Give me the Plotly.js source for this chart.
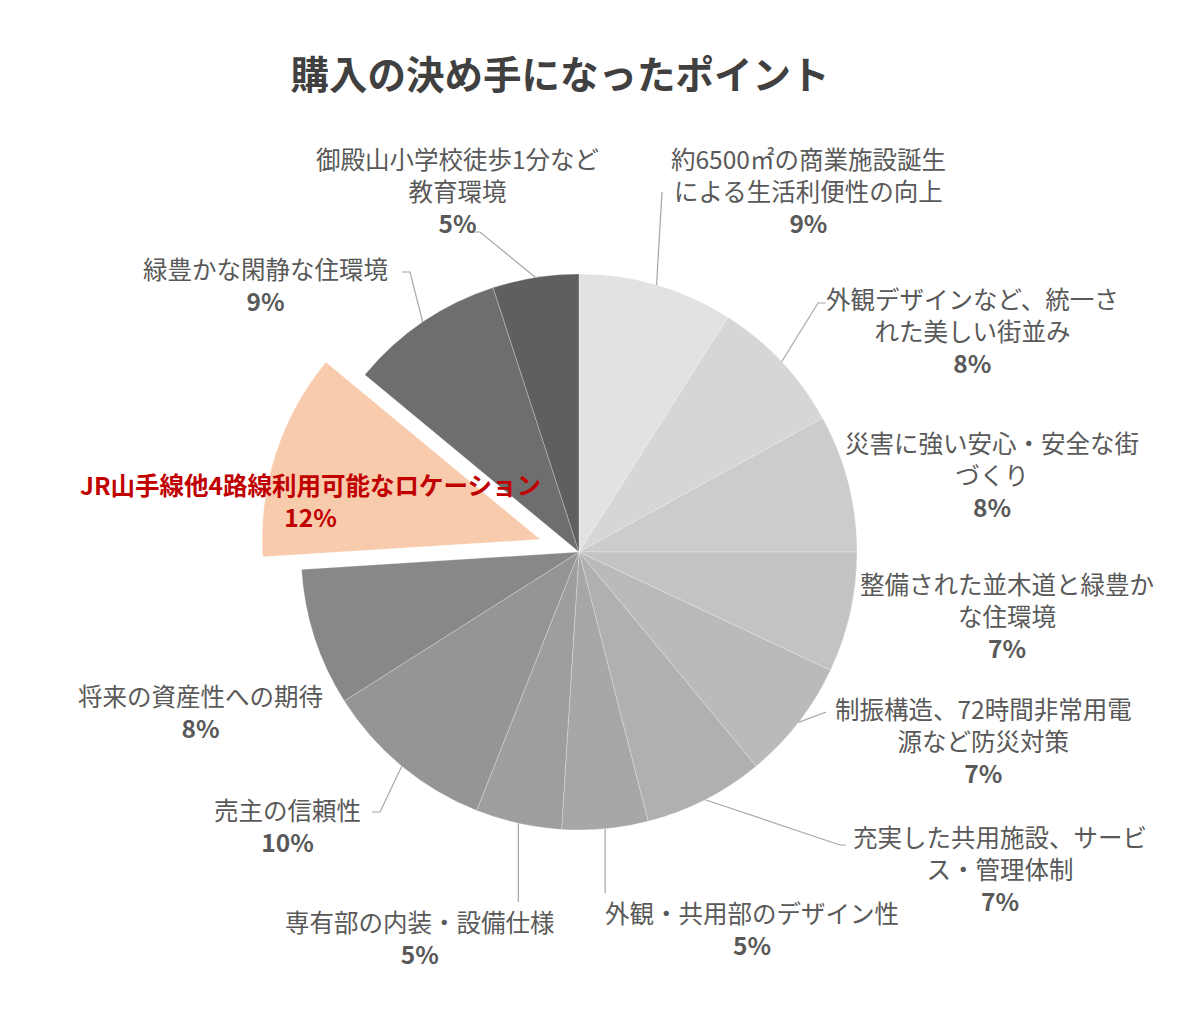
<!DOCTYPE html>
<html>
<head>
<meta charset="utf-8">
<script src="https://cdn.plot.ly/plotly-3.0.1.min.js"></script>
<style>
  body { margin: 0; background: #fff; }
  #pie { width: 1200px; height: 1024px; }
</style>
</head>
<body>
<div id="pie"></div>
<script>
// slices, clockwise from 12 o'clock
var labels = [
  '約6500㎡の商業施設誕生<br>による生活利便性の向上',
  '外観デザインなど、統一さ<br>れた美しい街並み',
  '災害に強い安心・安全な街<br>づくり',
  '整備された並木道と緑豊か<br>な住環境',
  '制振構造、72時間非常用電<br>源など防災対策',
  '充実した共用施設、サービ<br>ス・管理体制',
  '外観・共用部のデザイン性',
  '専有部の内装・設備仕様',
  '売主の信頼性',
  '将来の資産性への期待',
  'JR山手線他4路線利用可能なロケーション',
  '緑豊かな閑静な住環境',
  '御殿山小学校徒歩1分など<br>教育環境'
];
var values = [9, 8, 8, 7, 7, 7, 5, 5, 10, 8, 12, 9, 5];

var colors = ['#e2e2e2', '#d6d6d6', '#cccccc', '#c3c3c3', '#bababa', '#b0b0b0',
  '#a7a7a7', '#9e9e9e', '#959595', '#888888', '#f8cbad', '#6e6e6e', '#5f5f5f'];
var pulls = [0, 0, 0, 0, 0, 0, 0, 0, 0, 0, 0.147, 0, 0];
var highlight = 10;

// label block centres (px) and leader line bend points (px, null x = straight down)
var labelPos = [[808, 190], [972, 330], [992, 474], [1007, 615], [983, 740], [1000, 868],
  [752, 928], [420, 937], [287, 825], [200, 711], [310, 500], [265, 284], [457, 190]];
var leaders = [
  [[662, 192]],
  [[818, 303], [826, 303]],
  null,
  null,
  [[826, 712]],
  [[840, 845], [846, 845]],
  [[null, 893]],
  [[null, 902]],
  [[380, 812], [372, 812]],
  null,
  null,
  [[410, 272], [402, 272]],
  [[480, 232], [472, 232]]
];

var W = 1200, H = 1024;
var cx = 579, cy = 552, r = 278;

function buildChart() {
  var maxPull = Math.max.apply(null, pulls);
  var box = 2 * r * (1 + maxPull);

  var trace = {
    type: 'pie',
    labels: labels,
    values: values,
    sort: false,
    direction: 'clockwise',
    rotation: 0,
    pull: pulls,
    textinfo: 'none',
    hoverinfo: 'none',
    marker: { colors: colors, line: { color: 'rgba(255,255,255,0.25)', width: 1 } },
    domain: {
      x: [(cx - box / 2) / W, (cx + box / 2) / W],
      y: [1 - (cy + box / 2) / H, 1 - (cy - box / 2) / H]
    }
  };

  var total = values.reduce(function (a, b) { return a + b; }, 0);
  var annotations = [];
  var shapes = [];
  var cum = 0;

  for (var i = 0; i < values.length; i++) {
    var mid = (cum + values[i] / 2) / total * 2 * Math.PI;
    cum += values[i];
    var ex = cx + r * Math.sin(mid);
    var ey = cy - r * Math.cos(mid);

    var red = i === highlight;
    annotations.push({
      xref: 'paper', yref: 'paper',
      x: labelPos[i][0] / W, y: 1 - labelPos[i][1] / H,
      xanchor: 'center', yanchor: 'middle',
      showarrow: false, align: 'center',
      text: (red ? '<b>' + labels[i] + '</b>' : labels[i]) + '<br><b>' + values[i] + '%</b>',
      font: { family: 'Noto Sans CJK JP, sans-serif', size: 24.5, color: red ? '#c00000' : '#595959' }
    });

    if (leaders[i]) {
      var path = 'M' + (ex / W) + ',' + (1 - ey / H);
      leaders[i].forEach(function (p) {
        var px = p[0] === null ? ex : p[0];
        path += ' L' + (px / W) + ',' + (1 - p[1] / H);
      });
      shapes.push({
        type: 'path', xref: 'paper', yref: 'paper', path: path,
        line: { color: '#a6a6a6', width: 1.2 }
      });
    }
  }

  var layout = {
    width: W, height: H,
    margin: { l: 0, r: 0, t: 0, b: 0 },
    paper_bgcolor: '#ffffff',
    showlegend: false,
    title: {
      text: '<b>購入の決め手になったポイント</b>',
      x: 560 / W, xanchor: 'center',
      y: 1 - 76 / H, yanchor: 'middle',
      font: { family: 'Noto Sans CJK JP, sans-serif', size: 38.5, color: '#404040' }
    },
    annotations: annotations,
    shapes: shapes
  };

  Plotly.newPlot('pie', [trace], layout, { staticPlot: true });
}

buildChart();
</script>
</body>
</html>
